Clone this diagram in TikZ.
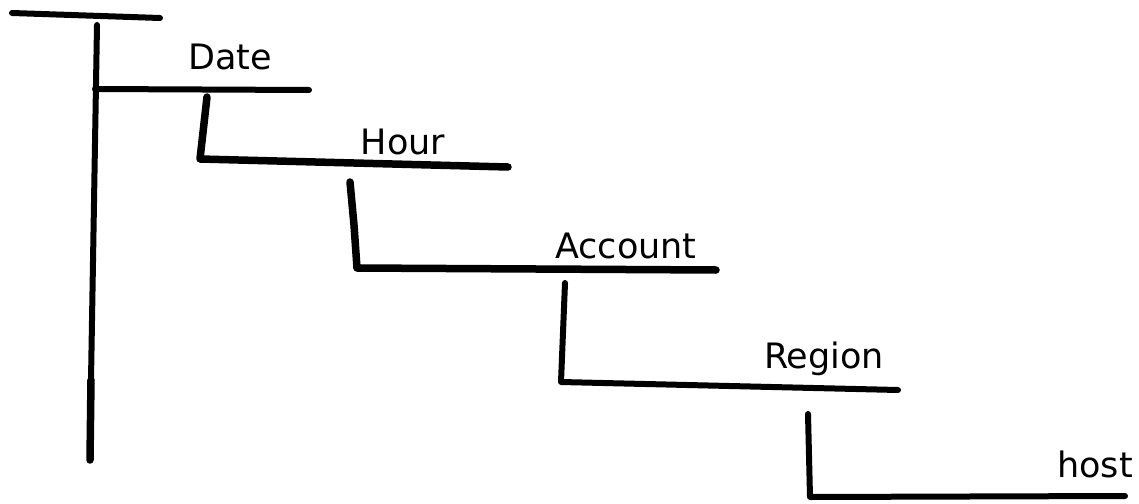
\documentclass[tikz,border=0pt]{standalone}
\usepackage{fontspec}
\setmainfont{DejaVu Sans}
\begin{document}
\begin{tikzpicture}[x=1pt,y=-1pt,
  stroke/.style={line width=6pt,line cap=round,line join=round},
  heavy/.style={line width=7.5pt,line cap=round,line join=round},
  level/.style={anchor=base,inner sep=0pt,font=\fontsize{35}{40}\selectfont}]
\useasboundingbox (0,0) rectangle (1139,503);

% root: a short bar with the trunk hanging below it
\coordinate (rootL) at (12,13);
\coordinate (rootR) at (160,18);
\draw[stroke] (rootL) -- (rootR);
\coordinate (trunkT) at (97,25);
\coordinate (trunkM) at (91,380);
\coordinate (trunkB) at (90,460);
\draw[stroke] (trunkT) -- (trunkM);
\draw[heavy] (trunkM) -- (trunkB);

% Date
\node[level] (date) at (230,70) {Date};
\coordinate (dateL) at (95,89);
\coordinate (dateR) at (309,90);
\draw[stroke] (dateL) -- (dateR);

% Hour
\node[level] (hour) at (403,154) {Hour};
\coordinate (hourT) at (207,97);
\coordinate (hourC) at (200,159);
\coordinate (hourR) at (508,167);
\draw[heavy] (hourT) -- (hourC) -- (hourR);

% Account
\node[level] (account) at (626,258) {Account};
\coordinate (accT) at (350,182);
\coordinate (accK) at (354,225);
\coordinate (accC) at (357,268);
\coordinate (accR) at (716,270);
\draw[heavy] (accT) -- (accK) -- (accC) -- (accR);

% Region
\node[level] (region) at (824,368) {Region};
\coordinate (regT) at (565,283);
\coordinate (regC) at (561,382);
\coordinate (regR) at (898,390);
\draw[stroke] (regT) -- (regC) -- (regR);

% host
\node[level] (host) at (1095,477) {host};
\coordinate (hostT) at (808,414);
\coordinate (hostC) at (810,497);
\coordinate (hostR) at (1125,496);
\draw[stroke] (hostT) -- (hostC) -- (hostR);
\end{tikzpicture}
\end{document}
